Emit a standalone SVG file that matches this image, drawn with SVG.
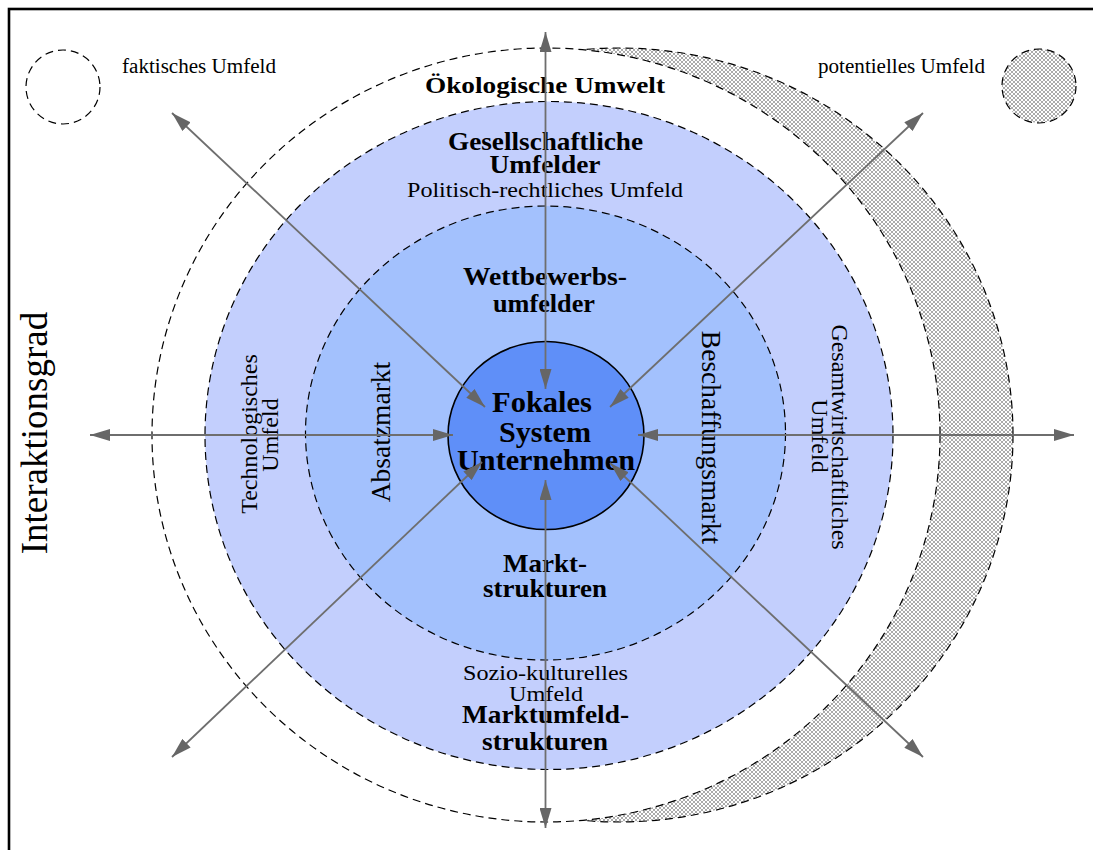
<svg xmlns="http://www.w3.org/2000/svg" width="1093" height="850" viewBox="0 0 1093 850">
<style>
.dash{stroke:#000;stroke-width:1.2;stroke-dasharray:8 5}
.t{font-family:"Liberation Serif","Times New Roman",serif;fill:#000;text-anchor:middle}
.b{font-weight:bold}
.conn line{stroke:#6e6e6e;stroke-width:1.8;marker-start:url(#ah);marker-end:url(#ah)}
</style>
<defs>
<pattern id="hatch" width="4" height="4" patternUnits="userSpaceOnUse">
<rect width="4" height="4" fill="#ffffff"/>
<path d="M0,0 L4,4 M4,0 L0,4" stroke="#a2a2a2" stroke-width="0.9"/>
</pattern>
<marker id="ah" viewBox="0 0 20 12" refX="20" refY="6" markerWidth="20" markerHeight="12" markerUnits="userSpaceOnUse" orient="auto-start-reverse">
<path d="M0,0 L20,6 L0,12 z" fill="#666666"/>
</marker>
</defs>
<rect width="1093" height="850" fill="#ffffff"/>
<rect x="9" y="9" width="1200" height="1000" fill="none" stroke="#000" stroke-width="2.6"/>

<g id="legend-faktisch">
<circle cx="63" cy="87" r="37" fill="none" class="dash"/>
<text class="t" x="122" y="73" font-size="20" style="text-anchor:start" textLength="154" lengthAdjust="spacingAndGlyphs">faktisches Umfeld</text>
</g>
<g id="legend-potentiell">
<circle cx="1039" cy="86" r="37" fill="url(#hatch)" class="dash"/>
<text class="t" x="818" y="73" font-size="20" style="text-anchor:start" textLength="167" lengthAdjust="spacingAndGlyphs">potentielles Umfeld</text>
</g>

<g id="potentielles-umfeld">
<ellipse cx="619" cy="435" rx="394" ry="387" fill="url(#hatch)" class="dash"/>
</g>
<g id="oekologische-umwelt">
<ellipse cx="546" cy="435" rx="394" ry="387" fill="#ffffff" class="dash"/>
<text class="t b" x="545" y="93" font-size="24" textLength="240" lengthAdjust="spacingAndGlyphs">Ökologische Umwelt</text>
</g>
<g id="marktumfeldstrukturen">
<ellipse cx="549" cy="435.5" rx="344" ry="334" fill="#c3cffd" class="dash"/>
<text class="t b" x="545.5" y="150" font-size="25" textLength="195" lengthAdjust="spacingAndGlyphs">Gesellschaftliche</text>
<text class="t b" x="545" y="173" font-size="25" textLength="111" lengthAdjust="spacingAndGlyphs">Umfelder</text>
<text class="t" x="545" y="197" font-size="21.5" textLength="276" lengthAdjust="spacingAndGlyphs">Politisch-rechtliches Umfeld</text>
<text class="t" x="545.5" y="680" font-size="21.5" textLength="165" lengthAdjust="spacingAndGlyphs">Sozio-kulturelles</text>
<text class="t" x="546" y="701" font-size="21.5" textLength="74" lengthAdjust="spacingAndGlyphs">Umfeld</text>
<text class="t b" x="545.5" y="723" font-size="26" textLength="167" lengthAdjust="spacingAndGlyphs">Marktumfeld-</text>
<text class="t b" x="545" y="750" font-size="26" textLength="126" lengthAdjust="spacingAndGlyphs">strukturen</text>
<text class="t" transform="translate(257,434) rotate(-90)" font-size="24">Technologisches</text>
<text class="t" transform="translate(278,435) rotate(-90)" font-size="24">Umfeld</text>
<text class="t" transform="translate(832,437) rotate(90)" font-size="24">Gesamtwirtschaftliches</text>
<text class="t" transform="translate(812,436) rotate(90)" font-size="24">Umfeld</text>
</g>
<g id="marktstrukturen">
<ellipse cx="545.5" cy="433" rx="240" ry="227" fill="#a3c1fd" class="dash"/>
<text class="t b" x="545" y="285" font-size="25" textLength="164" lengthAdjust="spacingAndGlyphs">Wettbewerbs-</text>
<text class="t b" x="544" y="312" font-size="25" textLength="102" lengthAdjust="spacingAndGlyphs">umfelder</text>
<text class="t b" x="545" y="572" font-size="26" textLength="84" lengthAdjust="spacingAndGlyphs">Markt-</text>
<text class="t b" x="545" y="597" font-size="26" textLength="124" lengthAdjust="spacingAndGlyphs">strukturen</text>
<text class="t" transform="translate(390,432) rotate(-90)" font-size="27.5">Absatzmarkt</text>
<text class="t" transform="translate(702,437.5) rotate(90)" font-size="27.5">Beschaffungsmarkt</text>
</g>
<g id="fokales-system">
<ellipse cx="546" cy="435.5" rx="98" ry="94" fill="#5f8ff8" stroke="#000" stroke-width="1.6"/>
<text class="t b" x="542" y="412" font-size="28.5" textLength="100" lengthAdjust="spacingAndGlyphs">Fokales</text>
<text class="t b" x="545" y="442" font-size="28.5" textLength="92" lengthAdjust="spacingAndGlyphs">System</text>
<text class="t b" x="546" y="470" font-size="28.5" textLength="178" lengthAdjust="spacingAndGlyphs">Unternehmen</text>
</g>
<g id="achse">
<text class="t" transform="translate(47,433) rotate(-90)" font-size="37">Interaktionsgrad</text>
</g>

<g id="connectors" class="conn">
<line x1="545.5" y1="32" x2="545.5" y2="389"/>
<line x1="545.5" y1="828" x2="545.5" y2="480"/>
<line x1="90" y1="435" x2="453" y2="435"/>
<line x1="1074" y1="435" x2="638" y2="435"/>
<line x1="172" y1="113" x2="485" y2="407"/>
<line x1="923" y1="113" x2="610" y2="407"/>
<line x1="172" y1="757" x2="482" y2="462"/>
<line x1="923" y1="757" x2="610" y2="463"/>
</g>
</svg>
